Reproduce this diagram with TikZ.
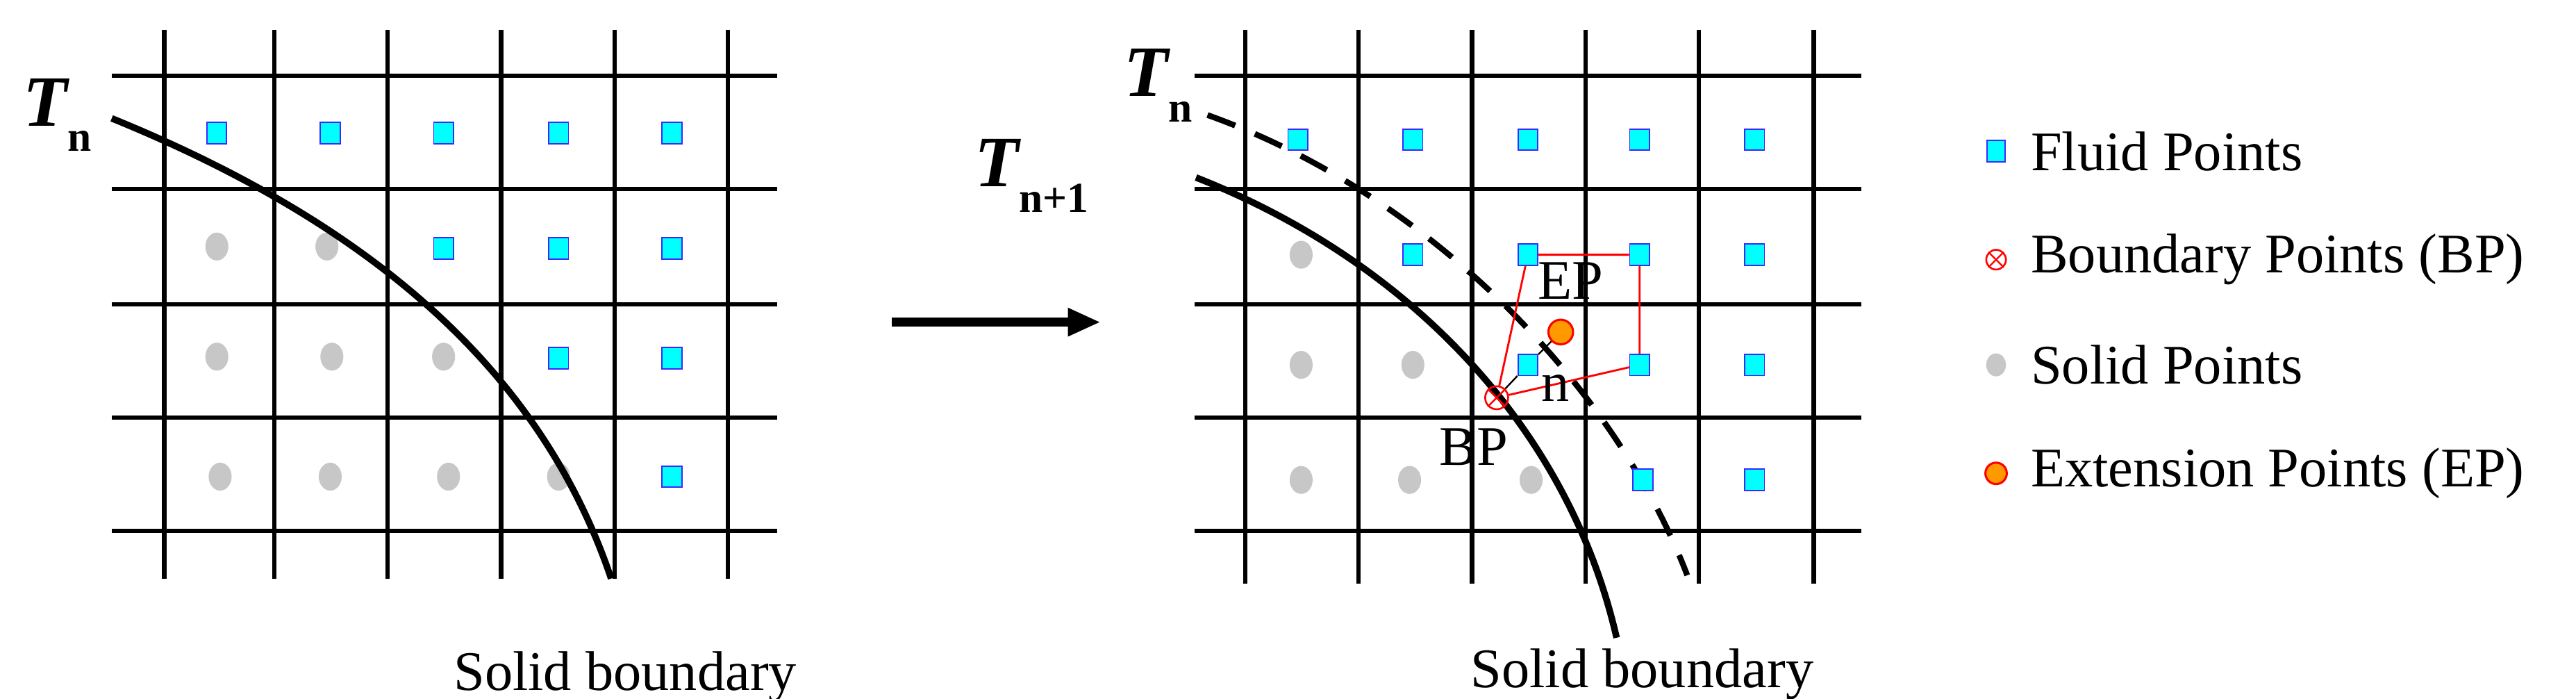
\documentclass[tikz,border=0pt]{standalone}
\usepackage{fontspec}
\setmainfont{Liberation Serif}
\usetikzlibrary{arrows.meta,shapes.geometric}
\definecolor{aqua}{RGB}{0,255,255}
\definecolor{fb}{RGB}{60,40,255}
\begin{document}
\begin{tikzpicture}[x=1pt,y=-1pt,
  grid/.style={line width=2.6pt},
  fluid/.style={draw=fb,fill=aqua,line width=0.8pt,minimum width=12pt,minimum height=13pt,inner sep=0pt,rectangle},
  solidpt/.style={fill=black!22,ellipse,minimum width=14pt,minimum height=17pt,inner sep=0pt},
  bpt/.style={draw=red,line width=1.1pt,circle,minimum size=14pt,inner sep=0pt},
  ept/.style={draw=red,fill=orange!80!yellow,line width=1.3pt,circle,minimum size=15pt,inner sep=0pt},
  lbl/.style={font=\fontsize{34}{36}\selectfont,inner sep=0pt,anchor=west},
  tlbl/.style={font=\fontsize{44}{44}\bfseries\itshape\selectfont,inner sep=0pt},
  curve/.style={line width=4pt}]
\useasboundingbox (0,0) rectangle (1568,425);
% left grid
\foreach \x in {100,167,236,305,374,443} \draw[grid] (\x,18) -- (\x,352);
\foreach \y in {46,115,185,254,323} \draw[grid] (68,\y) -- (473,\y);
\foreach \x/\y [count=\i] in {132/81,201/81,270/81,340/81,409/81,270/151,340/151,409/151,340/218,409/218,409/290}
  \node[fluid] (lf\i) at (\x,\y) {};
\foreach \x/\y [count=\i] in {132/150,199/150,132/217,202/217,270/217,134/290,201/290,273/290,340/290}
  \node[solidpt] (ls\i) at (\x,\y) {};
\draw[curve] (68,72) .. controls (230,138) and (330,228) .. (372,352);
\node[tlbl] (tnl) at (35,70) {T\raisebox{-0.35em}{\fontsize{26}{26}\upshape\selectfont n}};
\node[lbl] (sbl) at (276,412) {Solid boundary};
% arrow
\coordinate (a1) at (543,196); \coordinate (a2) at (670,196);
\draw[line width=5.5pt,-{Triangle[length=20pt,width=16pt]}] (a1) -- (a2);
% right grid
\foreach \x in {758,827,896,965,1034,1104} \draw[grid] (\x,18) -- (\x,355);
\foreach \y in {46,115,185,254,323} \draw[grid] (727,\y) -- (1133,\y);
\draw[curve] (728,108) .. controls (860,160) and (955,262) .. (984,388);
\draw[curve,line width=3.5pt,dash pattern=on 18pt off 13pt] (735,70) .. controls (875,120) and (985,240) .. (1027,350);
\foreach \x/\y [count=\i] in {790/85,860/85,930/85,998/85,1068/85,860/155,930/155,998/155,1068/155,930/222,998/222,1068/222,1000/292,1068/292}
  \node[fluid] (rf\i) at (\x,\y) {};
\foreach \x/\y [count=\i] in {792/155,792/222,860/222,792/292,858/292,932/292}
  \node[solidpt] (rs\i) at (\x,\y) {};
\node[bpt] (bp) at (911,242) {};
\draw[red,line width=1.1pt] (bp.45) -- (bp.225) (bp.135) -- (bp.315);
\node[ept] (ep) at (950,202) {};
\draw[red,line width=1.2pt] (bp) -- (rf7) -- (rf8) -- (rf11) -- (bp);
\draw[line width=1pt] (bp) -- (rf10) -- (ep);
\node[lbl,anchor=center] (eplbl) at (956,171) {EP};
\node[lbl,anchor=center] (nlbl) at (947,236) {n};
\node[lbl,anchor=center] (bplbl) at (897,272) {BP};
\node[tlbl] (tn2) at (705,52) {T\raisebox{-0.35em}{\fontsize{26}{26}\upshape\selectfont n}};
\node[tlbl] (tn1) at (628,107) {T\raisebox{-0.35em}{\fontsize{26}{26}\upshape\selectfont n+1}};
\node[lbl] (sbr) at (895,410) {Solid boundary};
% legend
\node[fluid,minimum width=11pt,minimum height=13pt] (lg1) at (1215,92) {};
\node[lbl] at (1236,92) {Fluid Points};
\node[bpt,minimum size=12pt] (lg2) at (1215,158) {};
\draw[red,line width=1pt] (lg2.45) -- (lg2.225) (lg2.135) -- (lg2.315);
\node[lbl] at (1236,158) {Boundary Points (BP)};
\node[solidpt,minimum width=12pt,minimum height=14pt] (lg3) at (1215,222) {};
\node[lbl] at (1236,222) {Solid Points};
\node[ept,minimum size=13pt] (lg4) at (1215,288) {};
\node[lbl] at (1236,288) {Extension Points (EP)};
\end{tikzpicture}
\end{document}
